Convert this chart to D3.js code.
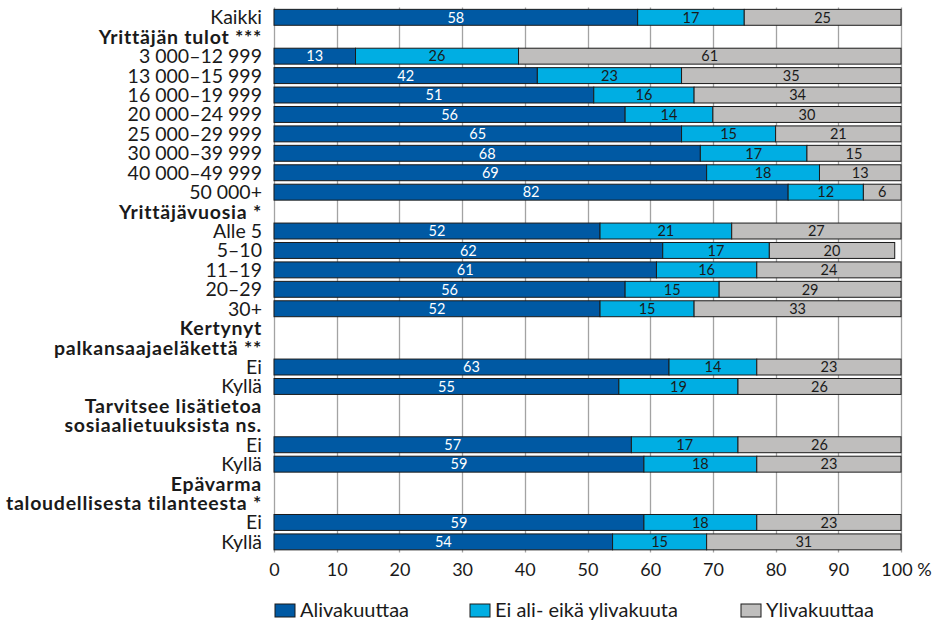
<!DOCTYPE html>
<html>
<head>
<meta charset="utf-8">
<script src="https://cdn.jsdelivr.net/npm/d3@7"></script>
<style>
  html, body { margin: 0; padding: 0; background: #fff; }
  svg { display: block; font-family: Lato, "Open Sans", sans-serif; }
</style>
</head>
<body>
<svg id="chart" width="936" height="621"></svg>
<script>
// Row labels, top to bottom; group headings have no bars
const rowLabels = [
  "Kaikki",
  "Yrittäjän tulot ***",
  "3 000–12 999", "13 000–15 999", "16 000–19 999", "20 000–24 999",
  "25 000–29 999", "30 000–39 999", "40 000–49 999", "50 000+",
  "Yrittäjävuosia *",
  "Alle 5", "5–10", "11–19", "20–29", "30+",
  "Kertynyt", "palkansaajaeläkettä **",
  "Ei", "Kyllä",
  "Tarvitsee lisätietoa", "sosiaalietuuksista ns.",
  "Ei", "Kyllä",
  "Epävarma", "taloudellisesta tilanteesta *",
  "Ei", "Kyllä"
];
// Which rows are bold group headings
const headingRows = [
  false, true, false, false, false, false, false, false, false, false,
  true, false, false, false, false, false,
  true, true, false, false,
  true, true, false, false,
  true, true, false, false
];

// Shares (%) per row; null for heading rows
const aliValues = [58, null, 13, 42, 51, 56, 65, 68, 69, 82, null, 52, 62, 61, 56, 52, null, null, 63, 55, null, null, 57, 59, null, null, 59, 54];
const neutralValues = [17, null, 26, 23, 16, 14, 15, 17, 18, 12, null, 21, 17, 16, 15, 15, null, null, 14, 19, null, null, 17, 18, null, null, 18, 15];
const yliValues = [25, null, 61, 35, 34, 30, 21, 15, 13, 6, null, 27, 20, 24, 29, 33, null, null, 23, 26, null, null, 26, 23, null, null, 23, 31];

const seriesNames = ["Alivakuuttaa", "Ei ali- eikä ylivakuuta", "Ylivakuuttaa"];
const seriesColors = ["#0059a3", "#00aee3", "#bfbebd"];
const seriesTextColors = ["#ffffff", "#1a1a1a", "#1a1a1a"];
const xTicks = [0, 10, 20, 30, 40, 50, 60, 70, 80, 90, 100];

const svg = d3.select("#chart");
const plotLeft = 274, plotRight = 901, plotTop = 7.6, plotBottom = 551.6;

const rows = rowLabels.map((label, i) => ({
  key: "r" + i, label, heading: headingRows[i],
  values: [aliValues[i], neutralValues[i], yliValues[i]]
}));

const x = d3.scaleLinear().domain([0, 100]).range([plotLeft, plotRight]).clamp(true);
const y = d3.scaleBand().domain(rows.map(r => r.key)).range([plotTop, plotBottom]).paddingInner(0.18).paddingOuter(0.09);

// Vertical gridlines
svg.append("g").selectAll("line").data(xTicks).join("line")
  .attr("x1", d => Math.round(x(d)) + 0.5).attr("x2", d => Math.round(x(d)) + 0.5)
  .attr("y1", plotTop).attr("y2", plotBottom + 1)
  .attr("stroke", "#a3a3a3").attr("stroke-width", 1.3);

// Stacked segments
const segs = [];
rows.forEach(r => {
  if (r.values[0] == null) return;
  let acc = 0;
  r.values.forEach((v, s) => {
    segs.push({ key: r.key, s, v, x0: acc, x1: acc + v });
    acc += v;
  });
});

const barG = svg.append("g");
barG.selectAll("rect").data(segs).join("rect")
  .attr("x", d => x(d.x0))
  .attr("y", d => y(d.key))
  .attr("width", d => x(d.x1) - x(d.x0))
  .attr("height", y.bandwidth())
  .attr("fill", d => seriesColors[d.s])
  .attr("stroke", "#1b1b1b").attr("stroke-width", 1);

barG.selectAll("text").data(segs).join("text")
  .attr("x", d => (x(d.x0) + x(d.x1)) / 2)
  .attr("y", d => y(d.key) + y.bandwidth() / 2 + 5.3)
  .attr("text-anchor", "middle")
  .attr("font-size", 14.5)
  .attr("fill", d => seriesTextColors[d.s])
  .text(d => d.v);

// Row labels
svg.append("g").selectAll("text").data(rows).join("text")
  .attr("x", 262)
  .attr("y", r => y(r.key) + y.bandwidth() / 2 + 7)
  .attr("text-anchor", "end")
  .attr("font-size", 19.5)
  .attr("font-weight", r => r.heading ? 700 : 400)
  .attr("letter-spacing", r => r.heading ? 0.75 : 0)
  .attr("fill", "#1a1a1a")
  .text(r => r.label);

// X axis tick labels
const xAxis = d3.axisBottom(x).tickValues(xTicks).tickSize(0)
  .tickFormat(d => d === 100 ? "100 %" : String(d));
const ax = svg.append("g").attr("transform", `translate(0,${plotBottom})`).call(xAxis);
ax.select(".domain").remove();
ax.selectAll("text").attr("font-size", 18).attr("fill", "#1a1a1a")
  .attr("font-family", "Lato, 'Open Sans', sans-serif").attr("dy", 0).attr("y", 24.5);
ax.selectAll(".tick").filter(d => d === 100).select("text").attr("dx", 5);

// Legend
const legendX = [275, 470, 741];
const lg = svg.append("g").selectAll("g").data(seriesNames).join("g")
  .attr("transform", (d, i) => `translate(${legendX[i]},604)`);
lg.append("rect").attr("width", 20).attr("height", 13)
  .attr("fill", (d, i) => seriesColors[i]).attr("stroke", "#1b1b1b").attr("stroke-width", 1);
lg.append("text").attr("x", 25).attr("y", 13).attr("font-size", 20)
  .attr("fill", "#1a1a1a").text(d => d);
</script>
</body>
</html>
